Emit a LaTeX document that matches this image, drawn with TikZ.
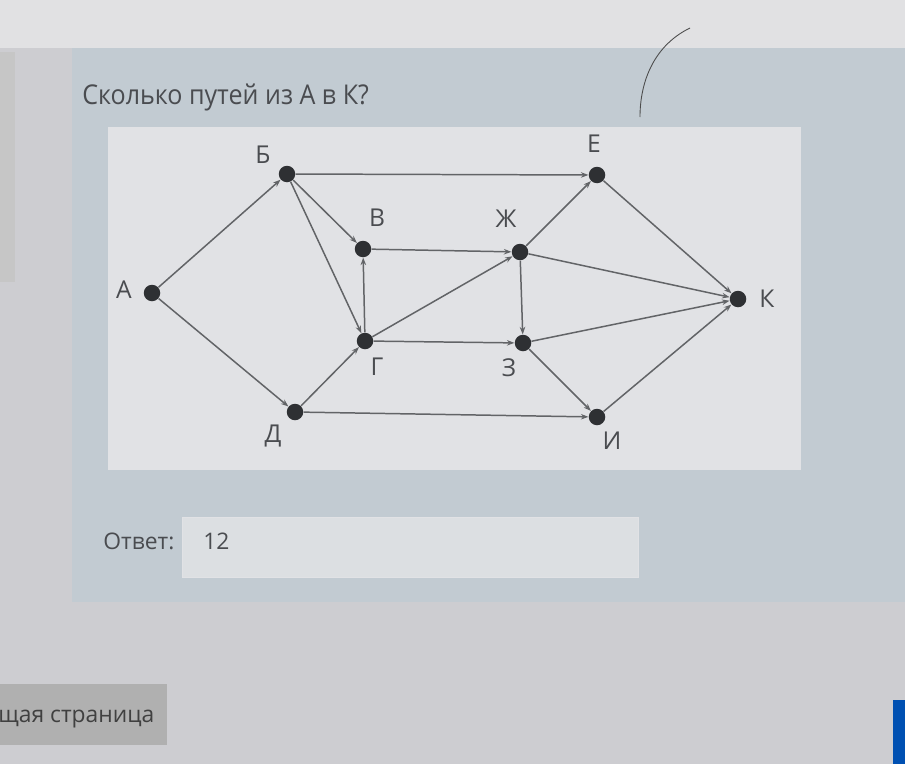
\documentclass[tikz,border=0pt]{standalone}
\usepackage{fontspec}
\setmainfont{Open Sans}
\usetikzlibrary{arrows.meta,positioning}

\definecolor{screenbg}{HTML}{CDCDD1}
\definecolor{panelbg}{HTML}{C2CBD2}
\definecolor{graphbg}{HTML}{E1E2E5}
\definecolor{edgecol}{HTML}{626467}
\definecolor{dotcol}{HTML}{2E3033}
\definecolor{txtcol}{HTML}{4A4C50}

\begin{document}
\begin{tikzpicture}[x=0.02cm, y=-0.02cm, >={Stealth[length=0.15cm,width=0.11cm]},
    vertex/.style={circle, fill=dotcol, minimum size=0.33cm, inner sep=0pt},
    vlabel/.style={font=\fontsize{14}{14}\selectfont, text=txtcol},
    uitext/.style={anchor=base west, inner sep=0pt, font=\fontsize{13}{13}\selectfont, text=txtcol},
    edge/.style={->, edgecol, line width=0.85pt}]
    % Screen
    \useasboundingbox (0,0) rectangle (905,764);
    \clip (0,0) rectangle (905,764);
    \fill[screenbg] (0,0) rectangle (905,764);
    \fill[screenbg!60!white] (0,0) rectangle (905,48);
    \fill[gray!45] (0,52) rectangle (15,282);
    \fill[panelbg] (72,48) rectangle (905,602);
    \draw[black!70, line width=0.5pt] (690,28) .. controls (655,45) and (640,80) .. (640,117);

    % Question
    \node[uitext, font=\fontsize{15.5}{16}\selectfont, xscale=0.92] (question) at (82,104) {Сколько путей из А в К?};

    % Graph panel
    \fill[graphbg] (108,127) rectangle (801,470);

    % Vertices
    \node[vertex] (A) at (152,293) {};
    \node[vertex] (B) at (287,174) {};
    \node[vertex] (E) at (597,175) {};
    \node[vertex] (V) at (363,249) {};
    \node[vertex] (Zh) at (520,252) {};
    \node[vertex] (K) at (738,299) {};
    \node[vertex] (G) at (365,341) {};
    \node[vertex] (Z) at (523,343) {};
    \node[vertex] (D) at (295,412) {};
    \node[vertex] (I) at (597,417) {};

    % Labels
    \node[vlabel] (lA) at (124,290) {А};
    \node[vlabel] (lB) at (263,155) {Б};
    \node[vlabel] (lE) at (594,144) {Е};
    \node[vlabel] (lV) at (377,218) {В};
    \node[vlabel] (lZh) at (506,219) {Ж};
    \node[vlabel] (lK) at (767,299) {К};
    \node[vlabel] (lG) at (377,367) {Г};
    \node[vlabel] (lZ) at (509,368) {З};
    \node[vlabel] (lD) at (273,436) {Д};
    \node[vlabel] (lI) at (612,441) {И};

    % Edges
    \draw[edge] (A) -- (B);
    \draw[edge] (A) -- (D);
    \draw[edge] (B) -- (E);
    \draw[edge] (B) -- (V);
    \draw[edge] (B) -- (G);
    \draw[edge] (G) -- (V);
    \draw[edge] (V) -- (Zh);
    \draw[edge] (G) -- (Zh);
    \draw[edge] (G) -- (Z);
    \draw[edge] (D) -- (G);
    \draw[edge] (D) -- (I);
    \draw[edge] (Zh) -- (E);
    \draw[edge] (Zh) -- (K);
    \draw[edge] (Zh) -- (Z);
    \draw[edge] (Z) -- (K);
    \draw[edge] (Z) -- (I);
    \draw[edge] (E) -- (K);
    \draw[edge] (I) -- (K);

    % Answer
    \node[uitext] (answer) at (103,549) {Ответ:};
    \draw[fill=graphbg!85!panelbg, draw=graphbg] (182,517) rectangle (638,577);
    \node[uitext] (value) at (203,549) {12};

    % Bottom buttons
    \fill[gray!62] (0,684) rectangle (167,745);
    \node[uitext, text=black!75] (prev) at (-2,722) {щая страница};
    \fill[blue!55!cyan!70!black] (893,700) rectangle (905,764);
\end{tikzpicture}
\end{document}
